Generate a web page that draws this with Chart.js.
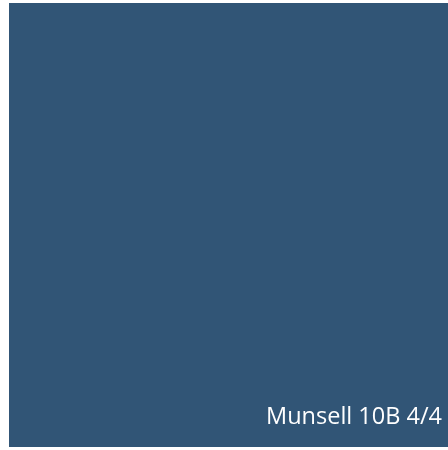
<!DOCTYPE html>
<html>
<head>
<meta charset="utf-8">
<script src="https://cdn.jsdelivr.net/npm/chart.js@4"></script>
<style>
  html, body { margin: 0; padding: 0; background: #fff; }
  #wrap { width: 448px; height: 450px; }
</style>
</head>
<body>
<div id="wrap"><canvas id="myChart"></canvas></div>
<script>
var swatchLabels = ['Munsell 10B 4/4'];
var swatchValues = [1];
var swatchColors = ['rgb(49,85,118)'];

// writes the swatch name in the bottom right corner of the bar
var swatchName = {
  id: 'swatchName',
  afterDatasetsDraw: function (chart) {
    var ctx = chart.ctx;
    var bar = chart.getDatasetMeta(0).data[0];
    var p = bar.getProps(['x', 'y', 'base', 'width'], true);
    ctx.save();
    ctx.fillStyle = '#fff';
    ctx.font = '23.5px "Open Sans"';
    ctx.textAlign = 'right';
    ctx.textBaseline = 'alphabetic';
    ctx.fillText(chart.data.labels[0], p.x + p.width / 2 - 6, p.base - 23);
    ctx.restore();
  }
};

var ctx = document.getElementById('myChart').getContext('2d');
var myChart = new Chart(ctx, {
  type: 'bar',
  data: {
    labels: swatchLabels,
    datasets: [{
      data: swatchValues,
      backgroundColor: swatchColors,
      borderWidth: 0,
      barPercentage: 1,
      categoryPercentage: 1
    }]
  },
  options: {
    maintainAspectRatio: false,
    animation: false,
    layout: { padding: { left: 9, top: 3, right: 0, bottom: 3 } },
    plugins: { legend: { display: false }, tooltip: { enabled: false } },
    scales: {
      x: { display: false },
      y: { display: false, min: 0, max: 1 }
    }
  },
  plugins: [swatchName]
});
</script>
</body>
</html>
